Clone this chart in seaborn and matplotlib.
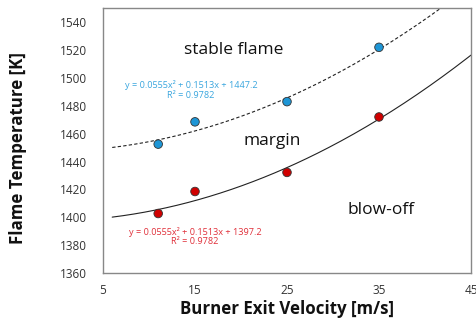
import numpy as np
import pandas as pd
import matplotlib
matplotlib.use("Agg")
import matplotlib.pyplot as plt
import seaborn as sns

# Data
velocity = [11, 15, 25, 35]
temp_stable = [1452.5, 1468.5, 1483, 1522]
temp_blowoff = [1402.7, 1418.5, 1432.2, 1472]
# Trendline coefficients as printed on the chart
coef_stable = [0.0555, 0.1513, 1447.2]
coef_blowoff = [0.0555, 0.1513, 1397.2]
r2_stable = 0.9782
r2_blowoff = 0.9782
x_ticks = [5, 15, 25, 35, 45]
y_ticks = [1360, 1380, 1400, 1420, 1440, 1460, 1480, 1500, 1520, 1540]

sns.set_theme(style="white")
plt.rcParams['font.family'] = ['Open Sans', 'DejaVu Sans']

fig = plt.figure(figsize=(4.77, 3.21), dpi=100)
ax = fig.add_axes([103/477, 1-273/321, 368/477, (273-8.3)/321])

xs = np.linspace(6, 45, 200)
fit_df = pd.DataFrame({
    "x": np.concatenate([xs, xs]),
    "y": np.concatenate([np.polyval(coef_stable, xs), np.polyval(coef_blowoff, xs)]),
    "s": ["stable"] * len(xs) + ["blowoff"] * len(xs),
})
sns.lineplot(data=fit_df[fit_df.s == "stable"], x="x", y="y", ax=ax, color="#222222",
             lw=0.8, linestyle=(0, (3, 2)), legend=False)
sns.lineplot(data=fit_df[fit_df.s == "blowoff"], x="x", y="y", ax=ax, color="#222222",
             lw=0.8, legend=False)

pts = pd.DataFrame({"v": velocity * 2, "t": temp_stable + temp_blowoff,
                    "s": ["stable"] * 4 + ["blowoff"] * 4})
sns.scatterplot(data=pts, x="v", y="t", hue="s",
                palette={"stable": "#1E96D6", "blowoff": "#D00000"},
                s=38, edgecolor="#333333", linewidth=0.6, ax=ax, legend=False, zorder=5)

ax.set_xlim(5, 45)
ax.set_ylim(1360, 1550)
ax.set_xticks(x_ticks)
ax.set_yticks(y_ticks)
ax.tick_params(direction="in", length=3, color="#777777", labelsize=8.5,
               labelcolor="#333333", width=0.8)
ax.tick_params(axis="x", pad=8)
ax.tick_params(axis="y", pad=11.5)
for sp in ax.spines.values():
    sp.set_color("#888888")
    sp.set_linewidth(1.0)

ax.set_xlabel("Burner Exit Velocity [m/s]", fontsize=12.2, fontweight="bold", color="#111111")
ax.set_ylabel("Flame Temperature [K]", fontsize=12.2, fontweight="bold", color="#111111")
ax.xaxis.set_label_coords(0.5, (273-300)/264.7)
ax.yaxis.set_label_coords((27-103)/368, (273-148)/264.7)

def px(xp, yp):
    return ((xp-103)/368, (273-yp)/264.7)

ax.text(*px(234, 50), "stable flame", transform=ax.transAxes, ha="center", va="center",
        fontsize=12.5, color="#111111")
ax.text(*px(272, 141), "margin", transform=ax.transAxes, ha="center", va="center",
        fontsize=12.5, color="#111111")
ax.text(*px(381, 210), "blow-off", transform=ax.transAxes, ha="center", va="center",
        fontsize=12.5, color="#111111")

ax.text(*px(191, 85), f"y = {coef_stable[0]}x² + {coef_stable[1]}x + {coef_stable[2]}",
        transform=ax.transAxes, ha="center", va="center", fontsize=6.6, color="#3AA6DE")
ax.text(*px(191, 95), f"R² = {r2_stable}", transform=ax.transAxes, ha="center",
        va="center", fontsize=6.6, color="#3AA6DE")
ax.text(*px(195, 232), f"y = {coef_blowoff[0]}x² + {coef_blowoff[1]}x + {coef_blowoff[2]}",
        transform=ax.transAxes, ha="center", va="center", fontsize=6.6, color="#E0303A")
ax.text(*px(195, 242), f"R² = {r2_blowoff}", transform=ax.transAxes, ha="center",
        va="center", fontsize=6.6, color="#E0303A")

fig.savefig("out.png", dpi=100)
